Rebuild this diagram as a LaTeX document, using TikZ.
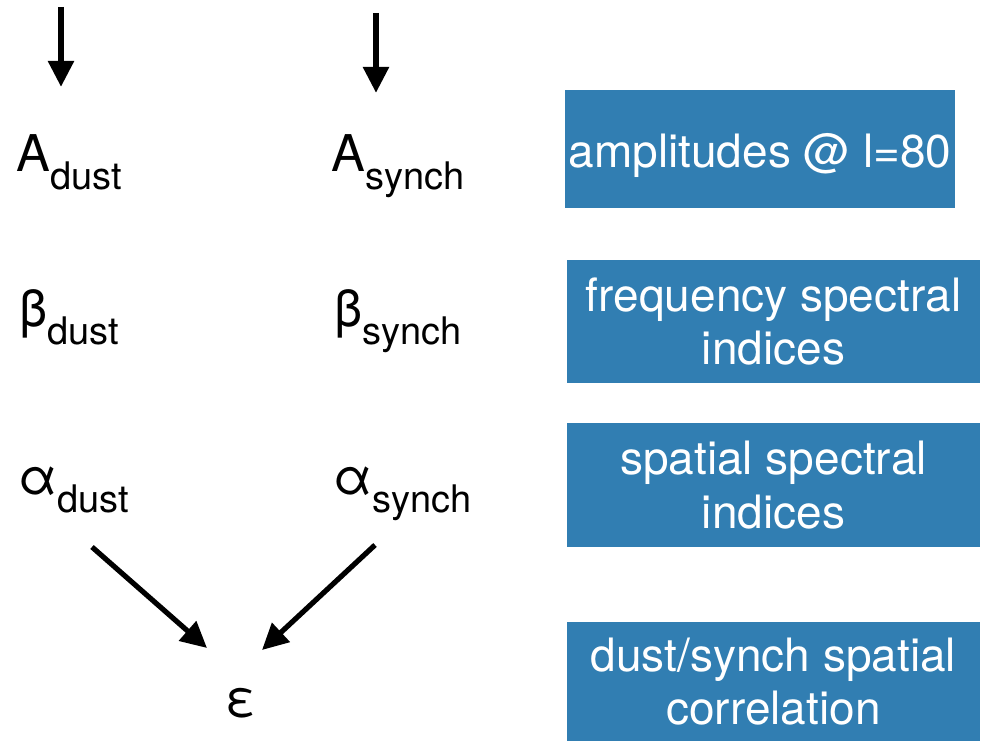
\documentclass[tikz,border=0pt]{standalone}
\usepackage{fontspec}
\setmainfont{TeX Gyre Heros}
\usetikzlibrary{arrows.meta}
\definecolor{boxblue}{RGB}{49,126,178}
\newcommand{\sym}[2]{{\fontsize{38}{40}\selectfont #1}\raisebox{-13.5pt}{\fontsize{28.5}{30}\selectfont #2}}

\begin{document}
\begin{tikzpicture}[x=0.75pt, y=-0.75pt, font=\fontsize{34.5}{40}\selectfont,
    arr/.style={line width=3.9pt, -{Triangle[length=19.5pt, width=19pt]}},
    param/.style={anchor=base west, inner sep=0pt},
    infobox/.style={fill=boxblue, text=white, align=center, inner sep=0pt,
      minimum width=309.75pt, minimum height=92.25pt}]
    \useasboundingbox (0,0) rectangle (982,741);
    % parameters
    \node[param] (Adust) at (16,172) {\sym{A}{dust}};
    \node[param] (Asynch) at (331,172) {\sym{A}{synch}};
    \node[param] (bdust) at (19,327) {\sym{β}{dust}};
    \node[param] (bsynch) at (334,327) {\sym{β}{synch}};
    \node[param] (adust) at (18,494) {\sym{α}{dust}};
    \node[param] (asynch) at (333,494) {\sym{α}{synch}};
    \node (eps) at (241,703) {\fontsize{38}{40}\selectfont ε};
    % inputs
    \coordinate (inAd) at (61,7);
    \coordinate (inAs) at (376,13);
    \draw[arr, shorten >=36pt] (inAd) -- (inAd |- Adust.north);
    \draw[arr, shorten >=31.5pt] (inAs) -- (inAs |- Asynch.north);
    \coordinate (fromad) at (92,547);
    \coordinate (toepsl) at (207,648);
    \coordinate (fromas) at (375,545);
    \coordinate (toepsr) at (262,650);
    \draw[arr] (fromad) -- (toepsl);
    \draw[arr] (fromas) -- (toepsr);
    % legend boxes
    \node[infobox, minimum width=292.5pt, minimum height=88.5pt] (amp) at (760,149) {\raisebox{0pt}[28.5pt][0pt]{amplitudes @ l=80}};
    \node[infobox] (freq) at (773.5,321.5) {frequency spectral\\indices};
    \node[infobox] (spat) at (773.5,485) {spatial spectral\\indices};
    \node[infobox, minimum height=89.25pt] (corr) at (773.5,681.5) {dust/synch spatial\\correlation};
\end{tikzpicture}
\end{document}
